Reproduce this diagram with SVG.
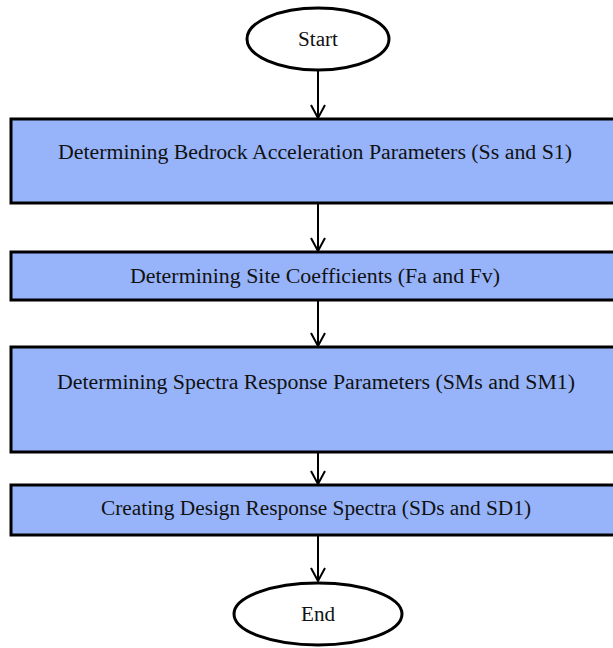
<svg xmlns="http://www.w3.org/2000/svg" width="613" height="648" viewBox="0 0 613 648">
<style>
.box{fill:#97b4fb;stroke:#000;stroke-width:3}
.term{fill:#fff;stroke:#000;stroke-width:3}
.lbl{font-family:"Liberation Serif","Times New Roman",serif;font-size:20px;fill:#111;text-anchor:middle}
.conn{stroke:#000;stroke-width:2;fill:none}
</style>
<defs>
<marker id="arr" markerWidth="16" markerHeight="16" refX="14" refY="8" orient="auto" markerUnits="userSpaceOnUse" viewBox="0 0 16 16">
<path d="M1,1 L14,8 L1,15" fill="none" stroke="#000" stroke-width="2"/>
</marker>
</defs>
<g id="connectors">
<line class="conn" x1="318" y1="70" x2="318" y2="118" marker-end="url(#arr)"/>
<line class="conn" x1="318" y1="204" x2="318" y2="251" marker-end="url(#arr)"/>
<line class="conn" x1="318" y1="301" x2="318" y2="346" marker-end="url(#arr)"/>
<line class="conn" x1="318" y1="453" x2="318" y2="484" marker-end="url(#arr)"/>
<line class="conn" x1="318" y1="536" x2="318" y2="581" marker-end="url(#arr)"/>
</g>
<g id="start">
<ellipse class="term" cx="318" cy="39" rx="71" ry="31"/>
<text class="lbl" x="318" y="46" textLength="40" lengthAdjust="spacingAndGlyphs">Start</text>
</g>
<g id="step1">
<rect class="box" x="11" y="119" width="610" height="84"/>
<text class="lbl" x="315" y="159" textLength="514" lengthAdjust="spacingAndGlyphs">Determining Bedrock Acceleration Parameters (Ss and S1)</text>
</g>
<g id="step2">
<rect class="box" x="11" y="252" width="610" height="48"/>
<text class="lbl" x="315" y="283" textLength="370" lengthAdjust="spacingAndGlyphs">Determining Site Coefficients (Fa and Fv)</text>
</g>
<g id="step3">
<rect class="box" x="11" y="347" width="610" height="105"/>
<text class="lbl" x="316" y="389" textLength="518" lengthAdjust="spacingAndGlyphs">Determining Spectra Response Parameters (SMs and SM1)</text>
</g>
<g id="step4">
<rect class="box" x="11" y="485" width="610" height="50"/>
<text class="lbl" x="316" y="515" textLength="430" lengthAdjust="spacingAndGlyphs">Creating Design Response Spectra (SDs and SD1)</text>
</g>
<g id="end">
<ellipse class="term" cx="318" cy="614" rx="84" ry="31"/>
<text class="lbl" x="318" y="621" textLength="34" lengthAdjust="spacingAndGlyphs">End</text>
</g>
</svg>
